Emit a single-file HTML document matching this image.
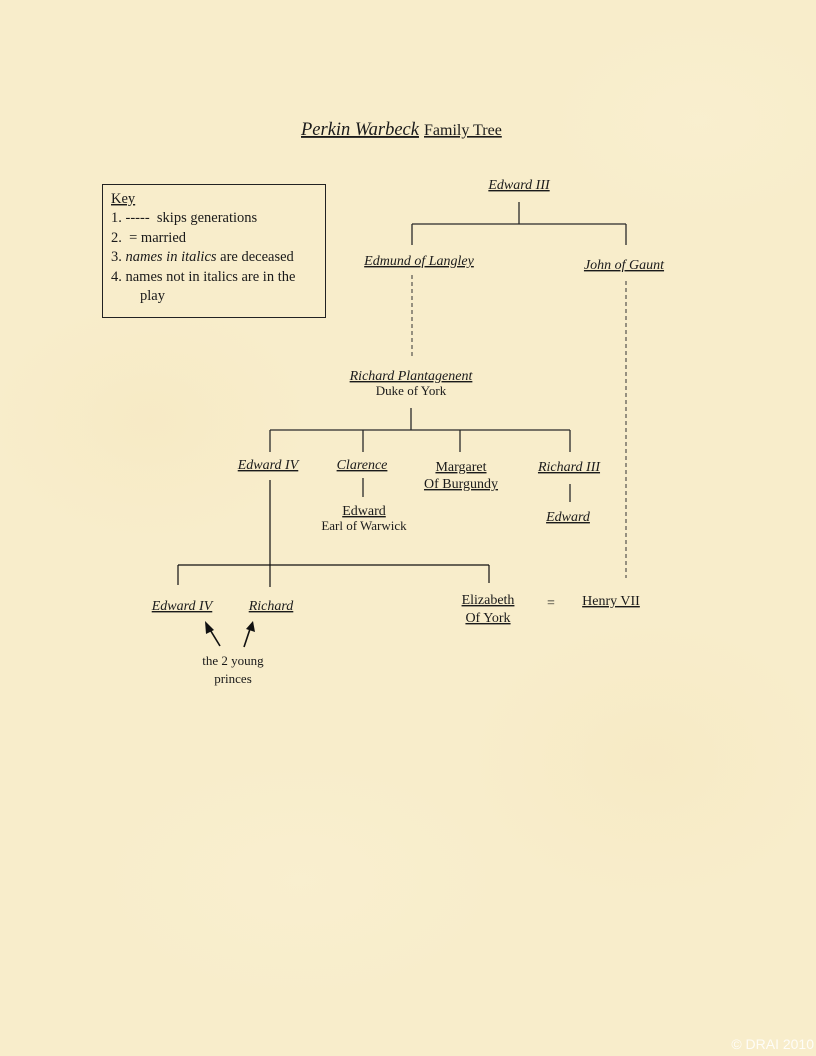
<!DOCTYPE html>
<html>
<head>
<meta charset="utf-8">
<style>
  html, body { margin:0; padding:0; }
  body { width:816px; height:1056px; overflow:hidden; background:#f8edcb; }
  svg { display:block; }
  text { font-family:"Liberation Serif", serif; fill:#1a1a1a; }
  .n { font-size:14px; text-decoration:underline; }
  .i { font-style:italic; }
  .s { font-size:13px; }
  .k { font-size:14.5px; }
</style>
</head>
<body>
<svg width="816" height="1056" viewBox="0 0 816 1056" xmlns="http://www.w3.org/2000/svg">
  <defs>
    <radialGradient id="b1" cx="50%" cy="50%" r="50%">
      <stop offset="0%" stop-color="#f3e2b4" stop-opacity="0.25"/>
      <stop offset="100%" stop-color="#f3e2b4" stop-opacity="0"/>
    </radialGradient>
    <radialGradient id="b2" cx="50%" cy="50%" r="50%">
      <stop offset="0%" stop-color="#fcf3d8" stop-opacity="0.3"/>
      <stop offset="100%" stop-color="#fcf3d8" stop-opacity="0"/>
    </radialGradient>
  </defs>
  <rect width="816" height="1056" fill="#f8edcb"/>
  <ellipse cx="150" cy="420" rx="160" ry="120" fill="url(#b1)"/>
  <ellipse cx="650" cy="760" rx="180" ry="140" fill="url(#b1)"/>
  <ellipse cx="300" cy="880" rx="200" ry="120" fill="url(#b2)"/>
  <ellipse cx="700" cy="120" rx="150" ry="100" fill="url(#b2)"/>

  <!-- Title -->
  <text x="301" y="135" style="font-size:18.5px;font-style:italic;text-decoration:underline;">Perkin Warbeck</text>
  <text x="424" y="135" style="font-size:16px;text-decoration:underline;">Family Tree</text>

  <!-- Key box -->
  <rect x="102.5" y="184.5" width="223" height="133" fill="none" stroke="#222" stroke-width="1"/>
  <text x="111" y="203" class="k" style="text-decoration:underline;">Key</text>
  <text x="111" y="222" class="k" xml:space="preserve">1. -----  skips generations</text>
  <text x="111" y="242" class="k" xml:space="preserve">2.  = married</text>
  <text x="111" y="261" class="k">3. <tspan font-style="italic">names in italics</tspan> are deceased</text>
  <text x="111" y="281" class="k">4. names not in italics are in the</text>
  <text x="140" y="300" class="k">play</text>

  <g stroke="#2a2a2a" stroke-width="1.3" fill="none">
    <!-- Edward III -->
    <line x1="519" y1="202" x2="519" y2="224"/>
    <line x1="412" y1="224" x2="626" y2="224"/>
    <line x1="412" y1="224" x2="412" y2="245"/>
    <line x1="626" y1="224" x2="626" y2="245"/>
    <!-- Richard Plantagenent -->
    <line x1="411" y1="408" x2="411" y2="430"/>
    <line x1="270" y1="430" x2="570" y2="430"/>
    <line x1="270" y1="430" x2="270" y2="452"/>
    <line x1="363" y1="430" x2="363" y2="452"/>
    <line x1="460" y1="430" x2="460" y2="452"/>
    <line x1="570" y1="430" x2="570" y2="452"/>
    <!-- Clarence -> Edward -->
    <line x1="363" y1="478" x2="363" y2="497"/>
    <!-- Richard III -> Edward -->
    <line x1="570" y1="484" x2="570" y2="502"/>
  </g>
  <g stroke="#111" stroke-width="1.2" fill="none">
    <!-- Edward IV -->
    <line x1="270" y1="480" x2="270" y2="587"/>
    <line x1="178" y1="565" x2="489" y2="565"/>
    <line x1="178" y1="565" x2="178" y2="585"/>
    <line x1="489" y1="565" x2="489" y2="583"/>
  </g>
  <!-- dashed -->
  <g stroke="#333" stroke-width="1" fill="none" stroke-dasharray="4,3">
    <line x1="412" y1="275" x2="412" y2="358"/>
    <line x1="626" y1="281" x2="626" y2="578"/>
  </g>

  <!-- Names -->
  <g text-anchor="middle">
    <text x="519" y="189" class="n i">Edward III</text>
    <text x="419" y="265" class="n i">Edmund of Langley</text>
    <text x="624" y="269" class="n i">John of Gaunt</text>
    <text x="411" y="380" class="n i">Richard Plantagenent</text>
    <text x="411" y="395" class="s">Duke of York</text>
    <text x="268" y="469" class="n i">Edward IV</text>
    <text x="362" y="469" class="n i">Clarence</text>
    <text x="461" y="471" class="n">Margaret</text>
    <text x="461" y="488" class="n">Of Burgundy</text>
    <text x="569" y="471" class="n i">Richard III</text>
    <text x="364" y="515" class="n">Edward</text>
    <text x="364" y="530" class="s">Earl of Warwick</text>
    <text x="568" y="521" class="n i">Edward</text>
    <text x="182" y="610" class="n i">Edward IV</text>
    <text x="271" y="610" class="n i">Richard</text>
    <text x="488" y="604" class="n">Elizabeth</text>
    <text x="488" y="622" class="n">Of York</text>
    <text x="551" y="607" style="font-size:14px;">=</text>
    <text x="611" y="605" class="n">Henry VII</text>
    <text x="233" y="665" class="s">the 2 young</text>
    <text x="233" y="683" class="s">princes</text>
  </g>

  <!-- Arrows -->
  <g stroke="#111" stroke-width="1.6" fill="#111">
    <line x1="220" y1="646" x2="209" y2="628"/>
    <polygon points="205,621 214,630 206,634" stroke="none"/>
    <line x1="244" y1="647" x2="250" y2="629"/>
    <polygon points="253,621 255,632 246,629" stroke="none"/>
  </g>

  <!-- copyright -->
  <text x="814" y="1049" text-anchor="end" style="font-family:'Liberation Sans',sans-serif;font-size:14px;fill:#ffffff;fill-opacity:0.85;">© DRAI 2010</text>
</svg>
</body>
</html>
